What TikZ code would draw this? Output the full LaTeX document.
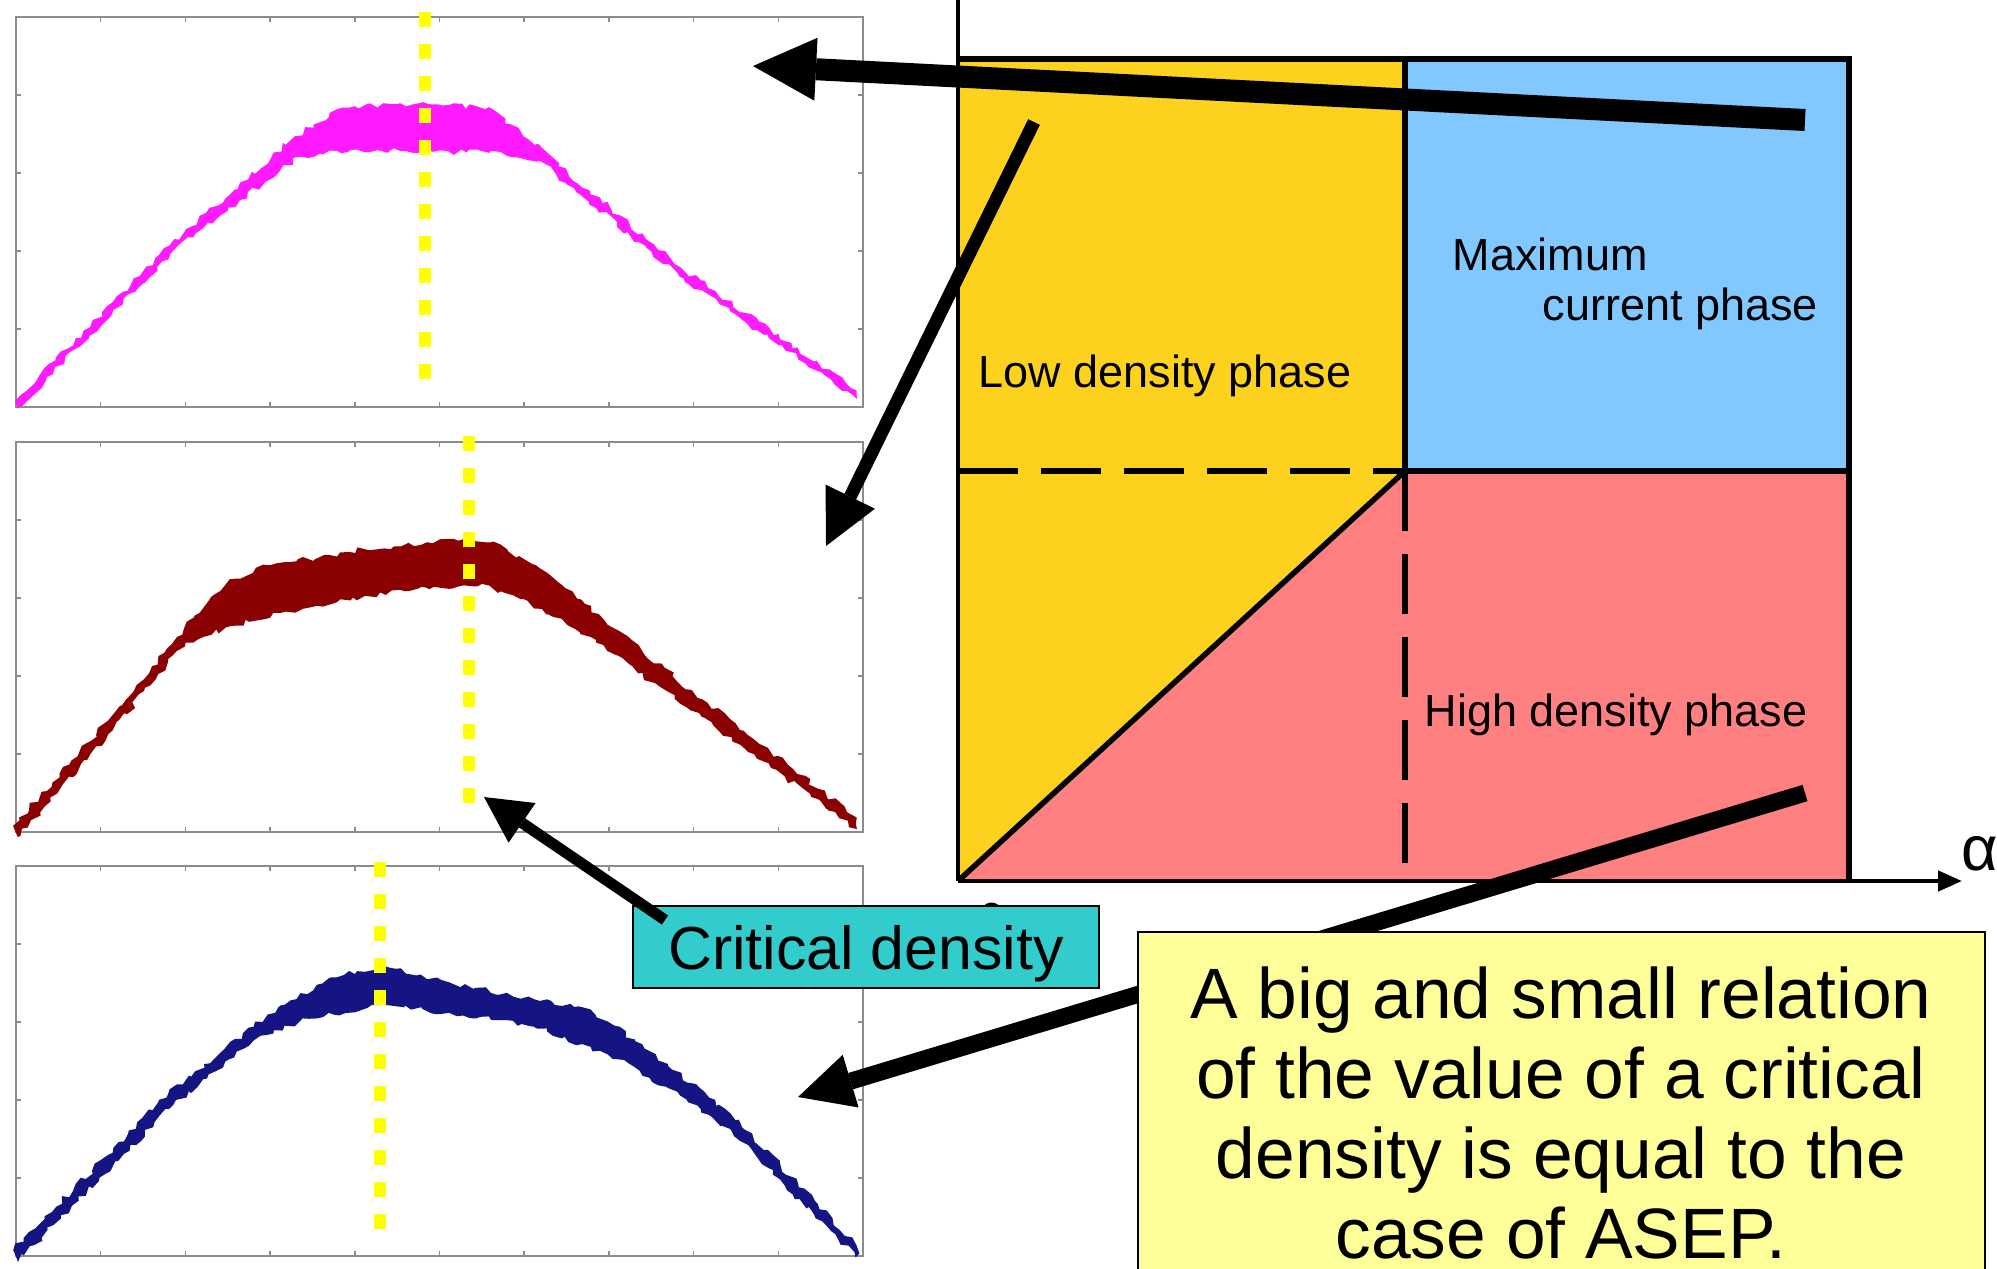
\documentclass[tikz,border=0pt]{standalone}
\usepackage{fontspec}
\setmainfont{Liberation Sans}
\usetikzlibrary{arrows.meta,decorations.pathmorphing}

\definecolor{phaseGold}{HTML}{FDD21F}
\definecolor{phaseBlue}{HTML}{80C8FF}
\definecolor{phasePink}{HTML}{FF8080}
\definecolor{critCyan}{HTML}{33CCCC}
\definecolor{noteYellow}{HTML}{FFFF99}
\definecolor{cdYellow}{HTML}{FFFF00}
\definecolor{frameGrey}{HTML}{8C8C8C}
\definecolor{runMagenta}{HTML}{FF1AFF}
\definecolor{runRed}{HTML}{8B0000}
\definecolor{runNavy}{HTML}{141482}

\newcommand{\PhaseFont}{\fontsize{12.8}{15}\selectfont}
\newcommand{\CritFont}{\fontsize{17.3}{20}\selectfont}
\newcommand{\NoteFont}{\fontsize{20.3}{22.76}\selectfont}
\newcommand{\AxisFont}{\fontsize{18}{20}\selectfont}

\tikzset{
  big arrow/.style={
    -{Triangle[length=6.3mm,width=6.3mm,line width=0pt]},
    line width=2.2mm, black
  },
  mid arrow/.style={
    -{Triangle[length=5.5mm,width=5.5mm,line width=0pt]},
    line width=1.4mm, black
  },
  small arrow/.style={
    -{Triangle[length=4.6mm,width=4.8mm,line width=0pt]},
    line width=1.1mm, black
  },
  phase line/.style={line width=0.55mm, black},
  phase dash/.style={phase line, dash pattern=on 6mm off 2.3mm},
  axis line/.style={line width=0.45mm, black},
  phase label/.style={font=\PhaseFont, anchor=base west, inner sep=0pt},
  plot frame/.style={frameGrey, line width=0.15mm},
  run band/.style={
    fill=#1, draw=#1, line width=0.15mm, decorate,
    decoration={random steps, segment length=0.6mm, amplitude=0.3mm}
  },
  cd line/.style={cdYellow, line width=1.2mm, dash pattern=on 1.5mm off 1.7mm},
  crit box/.style={
    draw=black, line width=0.2mm, fill=critCyan, font=\CritFont,
    minimum width=46.6mm, minimum height=8.2mm, text depth=0pt, inner sep=0pt
  },
  note box/.style={
    draw=black, line width=0.2mm, fill=noteYellow, font=\NoteFont,
    align=center, minimum width=84.7mm, inner xsep=0pt, inner ysep=3.5mm
  },
}

\begin{document}
\begin{tikzpicture}[x=0.1mm,y=-0.1mm]
  \useasboundingbox (0,0) rectangle (1997,1268);
  \pgfmathsetseed{11}

  % ===================== Density profiles =====================
  \foreach \top in {17,442,866} {
    \begin{scope}[shift={(16,\top)}]
      \draw[plot frame] (0,0) rectangle (847,390);
      \foreach \k in {1,...,9} {
        \draw[plot frame] (\k*84.7,0) -- ++(0,5);
        \draw[plot frame] (\k*84.7,390) -- ++(0,-5);
      }
      \foreach \k in {1,...,4} {
        \draw[plot frame] (0,\k*78) -- ++(5,0);
        \draw[plot frame] (847,\k*78) -- ++(-5,0);
      }
    \end{scope}
  }

  % top run
  \path[run band=runMagenta] (16,401) -- (170,246) -- (292,140) -- (337,110)
    -- (400,104) -- (489,108) -- (528,140) -- (680,268) -- (856,391)
    -- (856,397) -- (680,276) -- (540,160) -- (489,152) -- (400,150)
    -- (337,150) -- (298,156) -- (170,253) -- (18,407) -- cycle;
  % middle run
  \path[run band=runRed] (14,826) -- (112,717) -- (185,628) -- (230,580)
    -- (270,566) -- (365,550) -- (427,543) -- (466,538) -- (500,545)
    -- (562,586) -- (702,700) -- (856,818)
    -- (856,828) -- (702,716) -- (562,618) -- (490,585) -- (427,587)
    -- (365,595) -- (281,612) -- (232,625) -- (185,642) -- (112,730)
    -- (18,836) -- cycle;
  % bottom run
  \path[run band=runNavy] (14,1250) -- (169,1094) -- (281,1006) -- (337,978)
    -- (382,966) -- (449,983) -- (534,1000) -- (590,1010) -- (607,1022)
    -- (635,1042) -- (730,1114) -- (856,1246)
    -- (856,1256) -- (730,1128) -- (640,1070) -- (600,1050) -- (534,1026)
    -- (449,1012) -- (382,1004) -- (309,1018) -- (253,1040) -- (169,1108)
    -- (18,1260) -- cycle;

  % critical density markers
  \draw[cd line] (425,12) -- (425,382);
  \draw[cd line] (469,436) -- (469,807);
  \draw[cd line] (380,862) -- (380,1232);

  % ===================== Phase diagram =====================
  \fill[phaseGold] (958,59) -- (1405,59) -- (1405,471) -- (958,881) -- cycle;
  \fill[phaseBlue] (1405,59) rectangle (1849,471);
  \fill[phasePink] (1405,471) -- (1849,471) -- (1849,881) -- (958,881) -- cycle;

  \draw[phase line] (958,59) -- (1849,59) -- (1849,881);
  \draw[phase line] (1405,59) -- (1405,471) -- (1849,471);
  \draw[phase line] (958,881) -- (1405,471);
  \draw[phase dash] (958,471) -- (1405,471);
  \draw[phase dash] (1405,471) -- (1405,863);

  % axes
  \draw[axis line] (958,-5) -- (958,881);
  \draw[axis line,-{Triangle[length=2.4mm,width=2mm]}] (958,881) -- (1962,881);
  \node[font=\AxisFont, anchor=base west, inner sep=0pt] (alpha) at (1961,870) {α};

  \node[phase label] (ldp) at (978,387) {Low density phase};
  \node[phase label] (mcp1) at (1452,270) {Maximum};
  \node[phase label] (mcp2) at (1542,320) {current phase};
  \node[phase label] (hdp) at (1424,726) {High density phase};

  % pointers from phases to profiles
  \coordinate (mcFrom) at (1805,120);
  \coordinate (mcTo) at (753,66);
  \coordinate (ldFrom) at (1034,122);
  \coordinate (ldTo) at (826,546);
  \draw[big arrow] (mcFrom) -- (mcTo);
  \draw[mid arrow,line width=1.3mm] (ldFrom) -- (ldTo);

  \node[font=\PhaseFont, anchor=north, inner sep=0pt] (origin) at (992,902) {0};

  % critical density label
  \node[crit box] (crit) at (866,947) {Critical density};
  \coordinate (cdTo) at (484,797);
  \draw[small arrow] ([xshift=3.3mm,yshift=-1.5mm]crit.north west) -- (cdTo);

  % high density pointer, under the note
  \coordinate (hdFrom) at (1805,793);
  \coordinate (hdTo) at (798,1097);
  \draw[mid arrow,line width=1.7mm] (hdFrom) -- (hdTo);

  \node[note box, anchor=north] (note) at (1561,931) {%
    A big and small relation\\
    of the value of a critical\\
    density is equal to the\\
    case of ASEP.};
\end{tikzpicture}
\end{document}
